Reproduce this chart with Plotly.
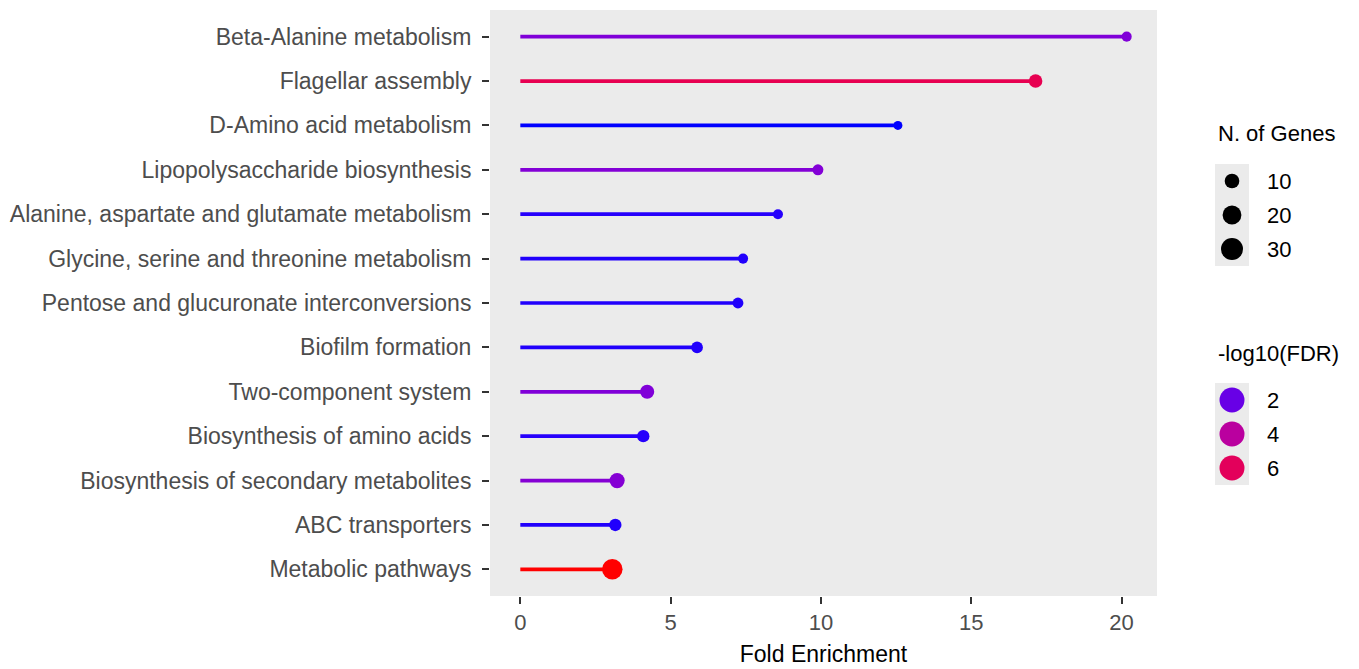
import plotly.graph_objects as go

# ---------------- data ----------------
pathways = [
    "Beta-Alanine metabolism",
    "Flagellar assembly",
    "D-Amino acid metabolism",
    "Lipopolysaccharide biosynthesis",
    "Alanine, aspartate and glutamate metabolism",
    "Glycine, serine and threonine metabolism",
    "Pentose and glucuronate interconversions",
    "Biofilm formation",
    "Two-component system",
    "Biosynthesis of amino acids",
    "Biosynthesis of secondary metabolites",
    "ABC transporters",
    "Metabolic pathways",
]
fold_enrichment = [20.17, 17.14, 12.56, 9.90, 8.57, 7.41, 7.24, 5.88, 4.22, 4.09, 3.22, 3.16, 3.06]
n_genes = [3, 8, 2, 4, 3, 3, 4, 5, 9, 6, 11, 6, 25]
neg_log10_fdr = [2.4, 6.3, 1.33, 2.45, 1.42, 1.4, 1.4, 1.4, 2.4, 1.42, 2.5, 1.4, 8.0]

size_breaks = [10, 20, 30]
fdr_breaks = [2, 4, 6]
x_ticks = [0, 5, 10, 15, 20]

# ---------------- colour scale (CIELAB blue -> red, like ggplot) ----------------
def _lin(c):
    c = c / 255.0
    return c / 12.92 if c <= 0.04045 else ((c + 0.055) / 1.055) ** 2.4

def _gam(c):
    c = 12.92 * c if c <= 0.0031308 else 1.055 * (c ** (1 / 2.4)) - 0.055
    return max(0, min(255, round(c * 255)))

def rgb_to_lab(rgb):
    r, g, b = (_lin(v) for v in rgb)
    X = (0.4124 * r + 0.3576 * g + 0.1805 * b) / 0.95047
    Y = (0.2126 * r + 0.7152 * g + 0.0722 * b)
    Z = (0.0193 * r + 0.1192 * g + 0.9505 * b) / 1.08883
    f = lambda t: t ** (1 / 3) if t > 0.008856 else 7.787 * t + 16 / 116
    fx, fy, fz = f(X), f(Y), f(Z)
    return (116 * fy - 16, 500 * (fx - fy), 200 * (fy - fz))

def lab_to_rgb(lab):
    L, a, bb = lab
    fy = (L + 16) / 116
    fx = fy + a / 500
    fz = fy - bb / 200
    finv = lambda t: t ** 3 if t ** 3 > 0.008856 else (t - 16 / 116) / 7.787
    X, Y, Z = 0.95047 * finv(fx), finv(fy), 1.08883 * finv(fz)
    r = 3.2406 * X - 1.5372 * Y - 0.4986 * Z
    g = -0.9689 * X + 1.8758 * Y + 0.0415 * Z
    b = 0.0557 * X - 0.2040 * Y + 1.0570 * Z
    return "rgb(%d,%d,%d)" % (_gam(max(r, 0)), _gam(max(g, 0)), _gam(max(b, 0)))

LOW, HIGH = rgb_to_lab((0, 0, 255)), rgb_to_lab((255, 0, 0))
cmin, cmax = min(neg_log10_fdr), max(neg_log10_fdr)

def colour(v):
    t = max(0.0, min(1.0, (v - cmin) / (cmax - cmin)))
    return lab_to_rgb(tuple(l + (h - l) * t for l, h in zip(LOW, HIGH)))

def dot_size(n):
    return 4.5 + 3.2 * n ** 0.5

# ---------------- layout geometry (pixels) ----------------
W, H = 1359, 669
PX0, PX1, PY0, PY1 = 490, 1157, 10, 596
FS = 23

fig = go.Figure()

for name, fe, v in zip(pathways, fold_enrichment, neg_log10_fdr):
    fig.add_trace(go.Scatter(
        x=[0, fe], y=[name, name], mode="lines",
        line=dict(color=colour(v), width=3.7),
        showlegend=False, hoverinfo="skip", xaxis="x", yaxis="y"))

fig.add_trace(go.Scatter(
    x=fold_enrichment, y=pathways, mode="markers",
    marker=dict(size=[dot_size(n) for n in n_genes],
                color=[colour(v) for v in neg_log10_fdr],
                line=dict(width=0), opacity=1),
    showlegend=False, xaxis="x", yaxis="y"))

# ---------------- hand-made ggplot style legends ----------------
LX = 1232          # key centre x
KEY_W = 34
KEY_H = 34
legends = [
    ("N. of Genes", 133, 164, size_breaks,
     [dot_size(s) for s in size_breaks], ["black"] * 3),
    ("-log10(FDR)", 353, 383, fdr_breaks,
     [25] * 3, [colour(v) for v in fdr_breaks]),
]
annotations = []
shapes = [dict(type="rect", xref="x domain", yref="y domain", x0=0, x1=1, y0=0, y1=1,
               fillcolor="#EBEBEB", line=dict(width=0), layer="below")]
for title, ty, top, breaks, sizes, cols in legends:
    annotations.append(dict(text=title, x=LX - 16, y=ty, xref="x2", yref="y2",
                            xanchor="left", yanchor="middle", showarrow=False,
                            font=dict(size=FS - 1, color="black")))
    shapes.append(dict(type="rect", xref="x2", yref="y2",
                       x0=LX - KEY_W / 2, x1=LX + KEY_W / 2,
                       y0=top, y1=top + KEY_H * len(breaks),
                       fillcolor="#EBEBEB", line=dict(width=0), layer="below"))
    ys = [top + KEY_H * (i + 0.5) for i in range(len(breaks))]
    fig.add_trace(go.Scatter(
        x=[LX] * len(breaks), y=ys, mode="markers",
        marker=dict(size=sizes, color=cols, line=dict(width=0), opacity=1),
        showlegend=False, hoverinfo="skip", xaxis="x2", yaxis="y2"))
    for b, yy in zip(breaks, ys):
        annotations.append(dict(text=str(b), x=LX + 33, y=yy, xref="x2", yref="y2",
                                xanchor="left", yanchor="middle", showarrow=False,
                                font=dict(size=FS - 1, color="black")))

xmax = max(fold_enrichment)
fig.update_layout(
    width=W, height=H,
    margin=dict(l=0, r=0, t=0, b=0, pad=0),
    paper_bgcolor="white", plot_bgcolor="rgba(0,0,0,0)",
    font=dict(family="Liberation Sans, Arial, sans-serif", size=FS, color="#4D4D4D"),
    xaxis=dict(domain=[PX0 / W, PX1 / W], anchor="y",
               range=[-0.05 * xmax, 1.05 * xmax],
               tickvals=x_ticks, ticks="outside", ticklen=7, tickwidth=2,
               tickcolor="#333333", showgrid=False, zeroline=False, showline=False,
               tickfont=dict(size=FS - 1, color="#4D4D4D"),
               title=dict(text="Fold Enrichment", font=dict(size=FS, color="black"),
                          standoff=11),
               automargin=False),
    yaxis=dict(domain=[1 - PY1 / H, 1 - PY0 / H], anchor="x",
               type="category", categoryorder="array",
               categoryarray=pathways[::-1],
               range=[-0.6, len(pathways) - 0.4],
               ticks="outside", ticklen=7, tickwidth=2, tickcolor="#333333",
               showgrid=False, zeroline=False, showline=False,
               tickfont=dict(size=FS, color="#4D4D4D"),
               ticklabelstandoff=6, automargin=False),
    xaxis2=dict(domain=[0, 1], anchor="y2", range=[0, W], visible=False,
                fixedrange=True),
    yaxis2=dict(domain=[0, 1], anchor="x2", range=[H, 0], visible=False,
                fixedrange=True),
    shapes=shapes,
    annotations=annotations,
)

fig.write_html("out.html", config={"displayModeBar": False},
               post_script="document.body.style.margin='0';document.body.style.overflow='hidden';")
